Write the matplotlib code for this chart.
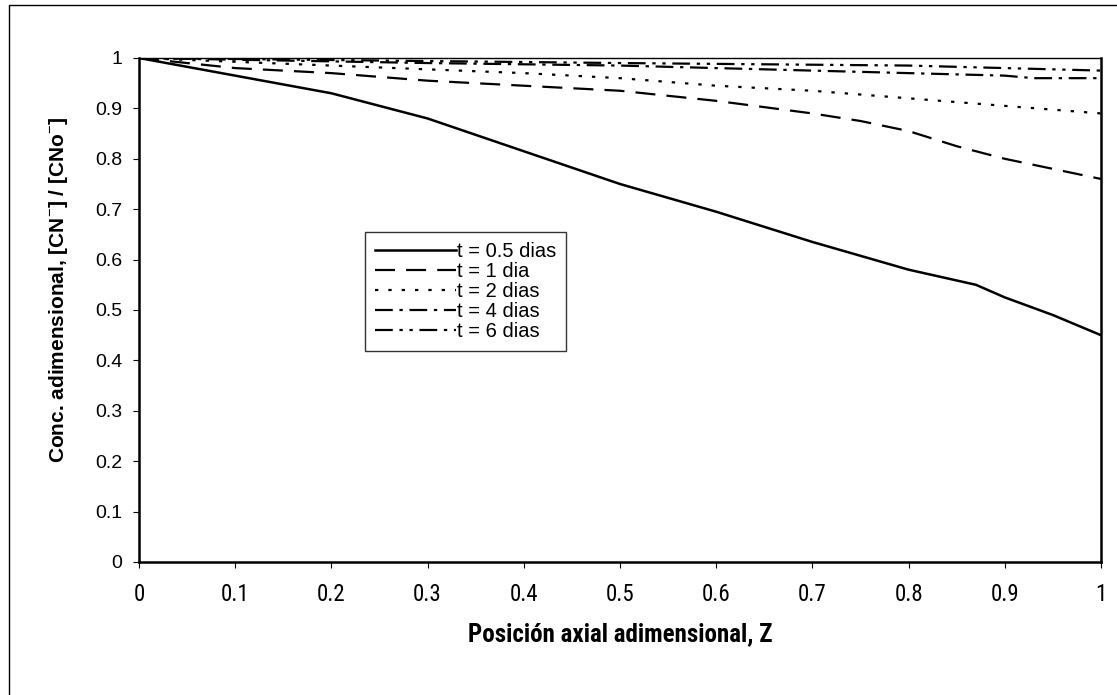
import matplotlib
matplotlib.use("Agg")
import matplotlib.pyplot as plt
from matplotlib import font_manager
from matplotlib.patches import Rectangle

# Valores (posicion axial Z vs concentracion adimensional)
z_05 = [0.0, 0.1, 0.2, 0.3, 0.4, 0.5, 0.6, 0.65, 0.7, 0.8, 0.87, 0.9, 0.95, 1.0]
c_05 = [1.0, 0.965, 0.93, 0.88, 0.815, 0.75, 0.695, 0.665, 0.635, 0.58, 0.55, 0.525, 0.49, 0.45]

z_1 = [0.0, 0.1, 0.2, 0.3, 0.4, 0.5, 0.6, 0.7, 0.75, 0.8, 0.85, 0.9, 0.95, 1.0]
c_1 = [1.0, 0.98, 0.97, 0.955, 0.945, 0.935, 0.915, 0.89, 0.875, 0.855, 0.825, 0.8, 0.78, 0.76]

z_2 = [0.0, 0.2, 0.4, 0.5, 0.6, 0.7, 0.8, 0.9, 1.0]
c_2 = [1.0, 0.985, 0.97, 0.96, 0.945, 0.935, 0.92, 0.905, 0.89]

z_4 = [0.0, 0.3, 0.5, 0.7, 0.9, 0.93, 1.0]
c_4 = [1.0, 0.99, 0.985, 0.975, 0.965, 0.96, 0.96]

z_6 = [0.0, 0.5, 0.8, 1.0]
c_6 = [1.0, 0.99, 0.985, 0.975]

labels = ["t = 0.5 dias", "t = 1 dia", "t = 2 dias", "t = 4 dias", "t = 6 dias"]
x_ticks = [0, 0.1, 0.2, 0.3, 0.4, 0.5, 0.6, 0.7, 0.8, 0.9, 1]
y_ticks = [0, 0.1, 0.2, 0.3, 0.4, 0.5, 0.6, 0.7, 0.8, 0.9, 1]

# fuentes disponibles: tomar la primera que exista
installed = {f.name for f in font_manager.fontManager.ttflist}
def pick(*names):
    for n in names:
        if n in installed:
            return n
    return "DejaVu Sans"

arial = pick("Liberation Sans", "Arimo", "Roboto", "Noto Sans")
narrow = pick("Liberation Sans Narrow", "Roboto Condensed", "Open Sans Condensed", arial)
plt.rcParams["mathtext.fontset"] = "custom"
plt.rcParams["mathtext.rm"] = arial
plt.rcParams["mathtext.bf"] = arial + ":bold"

W, H = 1117, 695
fig = plt.figure(figsize=(W / 100, H / 100), dpi=100)
fig.patch.set_facecolor("white")

# marco exterior del grafico (estilo Excel)
fig.patches.append(Rectangle((9 / W, -0.05), 1.2, 1 - 5 / H + 0.05, transform=fig.transFigure,
                             fill=False, edgecolor="black", linewidth=1.0))

ax = fig.add_axes([139 / W, 1 - 562 / H, (1101 - 139) / W, (562 - 58) / H])

ax.plot(z_05, c_05, color="black", lw=1.8, linestyle="-", label=labels[0])
ax.plot(z_1, c_1, color="black", lw=1.6, linestyle=(0, (9, 5)), label=labels[1])
ax.plot(z_2, c_2, color="black", lw=1.6, linestyle=(0, (1.5, 4.5)), label=labels[2])
ax.plot(z_4, c_4, color="black", lw=1.6, linestyle=(0, (8, 3, 1.5, 3)), label=labels[3])
ax.plot(z_6, c_6, color="black", lw=1.6, linestyle=(0, (8, 3, 1.5, 3, 1.5, 3)), label=labels[4])

ax.set_xlim(0, 1)
ax.set_ylim(0, 1)
ax.set_xticks(x_ticks)
ax.set_yticks(y_ticks)
ax.set_xticklabels([f"{v:g}" for v in x_ticks], fontsize=16.5, family=narrow)
ax.set_yticklabels([f"{v:g}" for v in y_ticks], fontsize=14, family=arial)
ax.tick_params(axis="both", direction="out", length=4, width=0.8, colors="black", pad=8)
ax.tick_params(axis="x", pad=11)
for side in ["left", "bottom", "right"]:
    ax.spines[side].set_linewidth(1.8)
ax.spines["top"].set_linewidth(1.0)

ax.set_xlabel("Posición axial adimensional, Z", fontsize=18, fontweight="bold",
              family=narrow, labelpad=12)
ax.set_ylabel("Conc. adimensional, [CN$^{-}$] / [CNo$^{-}$]", fontsize=15, fontweight="bold",
              family=arial, labelpad=12)
ax.yaxis.set_label_coords(-0.072, 0.54)

leg = ax.legend(loc="upper left", bbox_to_anchor=((365 - 139) / (1101 - 139), (562 - 232) / (562 - 58)),
                frameon=True, fancybox=False, edgecolor="black",
                prop={"family": arial, "size": 14.5},
                handlelength=4.0, handletextpad=0.05, labelspacing=0.05, borderpad=0.5,
                borderaxespad=0.0)
leg.get_frame().set_linewidth(1.0)

fig.savefig("out.png", dpi=100, facecolor="white")
